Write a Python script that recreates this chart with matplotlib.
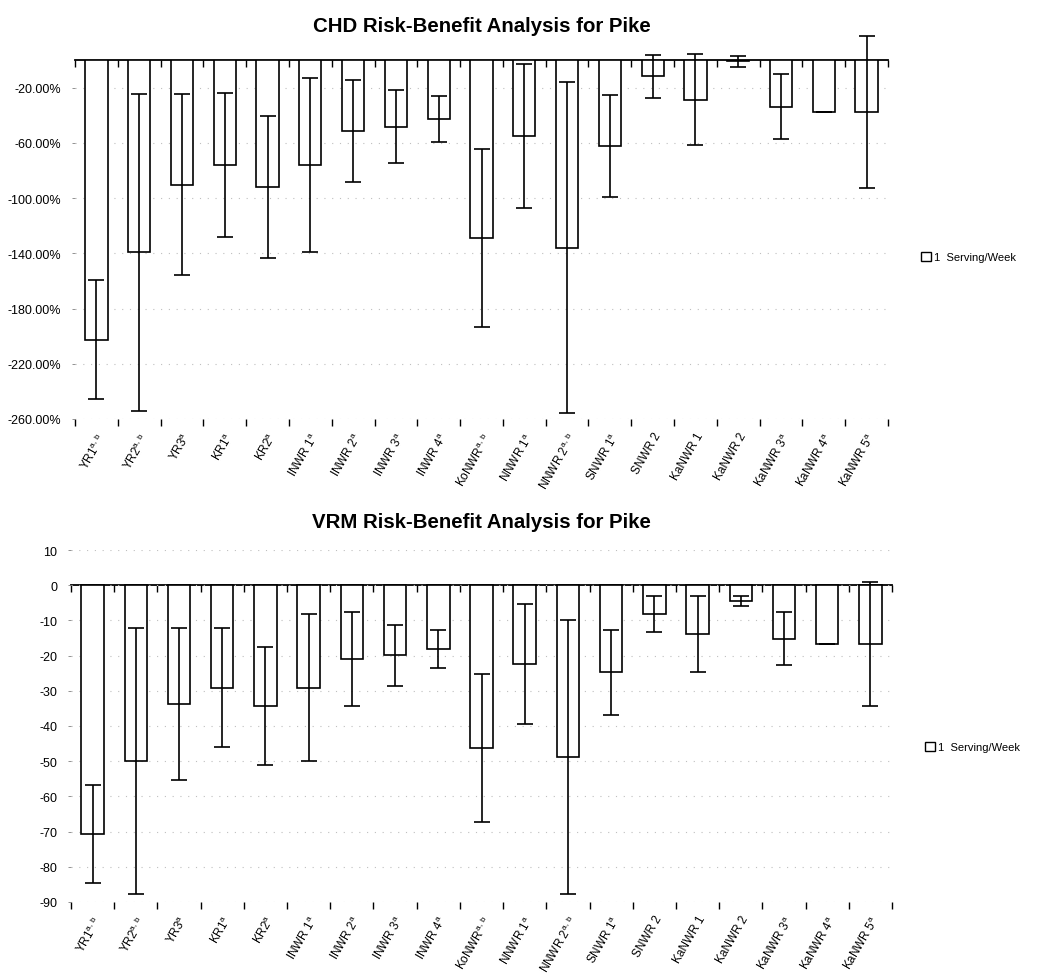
import numpy as np
import matplotlib.pyplot as plt
from matplotlib.patches import Patch
from matplotlib.ticker import FuncFormatter

plt.rcParams['font.family'] = ['Liberation Sans', 'DejaVu Sans']
plt.rcParams['mathtext.default'] = 'regular'

sites = [r'YR1$^{a,\,b}$', r'YR2$^{a,\,b}$', r'YR3$^{a}$', r'KR1$^{a}$', r'KR2$^{a}$',
         r'INWR 1$^{a}$', r'INWR 2$^{a}$', r'INWR 3$^{a}$', r'INWR 4$^{a}$',
         r'KoNWR$^{a,\,b}$', r'NNWR 1$^{a}$', r'NNWR 2$^{a,\,b}$', r'SNWR 1$^{a}$',
         'SNWR 2', 'KaNWR 1', 'KaNWR 2', r'KaNWR 3$^{a}$', r'KaNWR 4$^{a}$', r'KaNWR 5$^{a}$']

# CHD, percent change (1 serving/week)
chd = [-202.6, -139.4, -90.4, -76.0, -91.9, -76.0, -51.6, -48.2, -42.7, -128.8,
       -55.0, -135.8, -62.2, -11.8, -28.7, -1.0, -33.8, -37.9, -37.9]
chd_err = [43.0, 115.0, 65.5, 52.0, 51.6, 63.0, 37.0, 26.5, 16.7, 64.7,
           52.0, 120.0, 37.0, 15.5, 33.0, 4.0, 23.7, 0.0, 55.0]

# VRM (1 serving/week)
vrm = [-70.6, -50.0, -33.8, -29.1, -34.4, -29.1, -20.9, -19.9, -18.1, -46.3,
       -22.3, -48.8, -24.8, -8.2, -13.9, -4.6, -15.2, -16.6, -16.6]
vrm_err = [13.9, 37.8, 21.5, 17.0, 16.8, 20.8, 13.3, 8.6, 5.5, 21.0,
           17.1, 38.9, 12.0, 5.2, 10.8, 1.4, 7.6, 0.0, 17.6]

W, H = 1039, 978
fig = plt.figure(figsize=(W / 100, H / 100), dpi=100)


def draw(rect, vals, errs, title, ylim, yticks, fmt, title_y, leg_xy):
    ax = fig.add_axes(rect)
    x = np.arange(len(sites))
    ax.bar(x, vals, width=0.52, color='white', edgecolor='black', linewidth=1.2, zorder=3)
    ax.errorbar(x, vals, yerr=errs, fmt='none', ecolor='black', elinewidth=1.2,
                capsize=6, capthick=1.2, zorder=4, clip_on=False)
    ax.set_xlim(-0.5, len(sites) - 0.5)
    ax.set_ylim(*ylim)
    ax.set_yticks(yticks)
    ax.yaxis.set_major_formatter(FuncFormatter(fmt))
    ax.grid(axis='y', color='0.75', linestyle=(0, (1, 6)), linewidth=0.8, zorder=0)
    for s in ['left', 'right', 'top', 'bottom']:
        ax.spines[s].set_visible(False)
    ax.tick_params(axis='y', length=2, width=0.6, color='0.5', labelsize=9, pad=8)

    # category labels at bar centres, tick marks at category boundaries
    ax.set_xticks(x)
    ax.set_xticklabels(sites, rotation=60, ha='right', rotation_mode='anchor', fontsize=8.5)
    ax.set_xticks(np.arange(len(sites) + 1) - 0.5, minor=True)
    ax.tick_params(axis='x', which='major', length=0, pad=8)
    ax.tick_params(axis='x', which='minor', length=5, width=1.0, direction='out')

    # category axis crossing at zero
    sec = ax.secondary_xaxis(0, transform=ax.transData)
    sec.set_xticks(np.arange(len(sites) + 1) - 0.5)
    sec.set_xticklabels([])
    sec.set_alignment('bottom')
    sec.tick_params(length=5, width=1.0, direction='out')
    sec.spines['bottom'].set_linewidth(1.3)

    fig.text(rect[0] + rect[2] / 2, title_y, title, ha='center', va='center',
             fontsize=14.7, fontweight='bold')
    fig.legend(handles=[Patch(facecolor='white', edgecolor='black', linewidth=1.0)],
               labels=['1  Serving/Week'], loc='center left', bbox_to_anchor=leg_xy,
               frameon=False, fontsize=8, handlelength=0.9, handleheight=0.9,
               handletextpad=0.3, borderpad=0)
    return ax


draw([75 / W, 1 - 420 / H, 813 / W, 359 / H], chd, chd_err,
     'CHD Risk-Benefit Analysis for Pike', (-260, 0), np.arange(-260, 0, 40),
     lambda v, p: f'{v:.2f}%', 1 - 26 / H, (915 / W, 1 - 258 / H))

draw([71 / W, 1 - 903 / H, 821 / W, 352 / H], vrm, vrm_err,
     'VRM Risk-Benefit Analysis for Pike', (-90, 10), np.arange(-90, 11, 10),
     lambda v, p: f'{v:.0f}', 1 - 522 / H, (919 / W, 1 - 748 / H))

fig.savefig('out.png', dpi=100, facecolor='white')
